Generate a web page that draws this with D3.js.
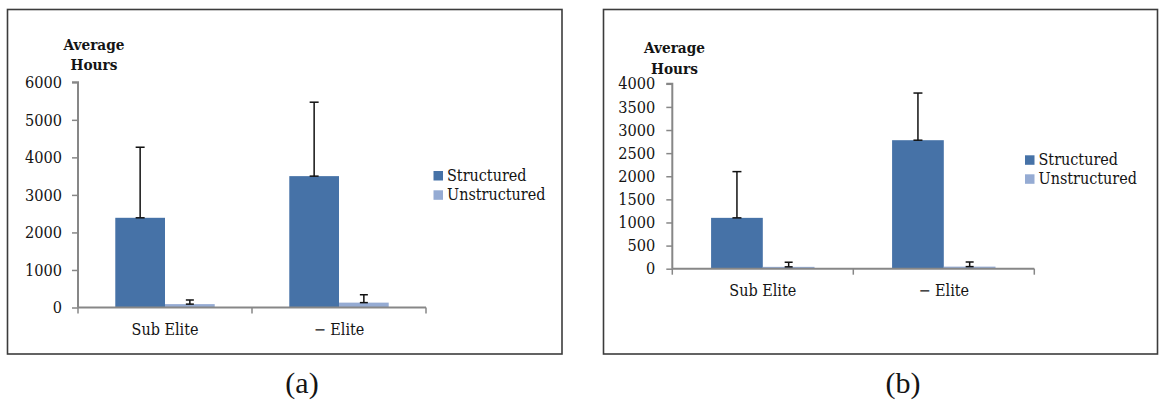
<!DOCTYPE html>
<html>
<head>
<meta charset="utf-8">
<script src="https://cdn.jsdelivr.net/npm/d3@7/dist/d3.min.js"></script>
<style>
  html, body { margin: 0; padding: 0; background: #fff; }
  svg { display: block; }
  text { fill: #141414; font-stretch: condensed; }
</style>
</head>
<body>
<svg id="chart" width="1159" height="401"></svg>
<script>
// Training hours by level: structured vs unstructured practice
const categories = ["Sub Elite", "\u2212 Elite"];
const seriesNames = ["Structured", "Unstructured"];

// Panel (a)
const structuredA = [2390, 3500];
const structuredErrA = [1880, 1970];
const unstructuredA = [90, 130];
const unstructuredErrA = [110, 210];
const yTicksA = [0, 1000, 2000, 3000, 4000, 5000, 6000];

// Panel (b)
const structuredB = [1100, 2780];
const structuredErrB = [1000, 1020];
const unstructuredB = [40, 45];
const unstructuredErrB = [100, 100];
const yTicksB = [0, 500, 1000, 1500, 2000, 2500, 3000, 3500, 4000];

const panelLabels = ["(a)", "(b)"];
const colors = ["#4672a7", "#95abd3"];

const svg = d3.select("#chart");
const FONT = "'DejaVu Serif Condensed', 'DejaVu Serif', serif";

const panels = [
  {
    label: panelLabels[0],
    values: [structuredA, unstructuredA],
    errors: [structuredErrA, unstructuredErrA],
    ticks: yTicksA,
    frame: { x0: 7.5, x1: 562, y0: 9.5, y1: 354 },
    plot: { x0: 78, x1: 426, y0: 307.5, y1: 82.3 },
    labelGap: 16,
    title: { x: 94, y1: 50, y2: 69.5 },
    xLabelY: 335,
    legend: { x: 433.5, y: 171, row: 19.3 },
    caption: { x: 302, y: 393 }
  },
  {
    label: panelLabels[1],
    values: [structuredB, unstructuredB],
    errors: [structuredErrB, unstructuredErrB],
    ticks: yTicksB,
    frame: { x0: 603.5, x1: 1157.5, y0: 9.5, y1: 354 },
    plot: { x0: 672.3, x1: 1034.3, y0: 268.7, y1: 83.8 },
    labelGap: 17,
    title: { x: 674.5, y1: 53, y2: 73.5 },
    xLabelY: 296,
    legend: { x: 1025, y: 155.3, row: 19 },
    caption: { x: 903, y: 393 }
  }
];

panels.forEach(p => {
  const g = svg.append("g");

  // frame
  g.append("rect")
    .attr("x", p.frame.x0).attr("y", p.frame.y0)
    .attr("width", p.frame.x1 - p.frame.x0)
    .attr("height", p.frame.y1 - p.frame.y0)
    .attr("fill", "none")
    .attr("stroke", "#3c3c3c")
    .attr("stroke-width", 1.6);

  const x = d3.scaleBand()
    .domain(categories)
    .range([p.plot.x0, p.plot.x1])
    .paddingInner(0).paddingOuter(0);

  // two bars per category, gap width 150%
  const barW = x.bandwidth() / 3.5;
  const xs = d3.scaleBand()
    .domain(seriesNames)
    .range([0, barW * 2]);

  const y = d3.scaleLinear()
    .domain([0, d3.max(p.ticks)])
    .range([p.plot.y0, p.plot.y1]);

  // bars
  seriesNames.forEach((s, si) => {
    g.append("g").selectAll("rect")
      .data(categories)
      .join("rect")
      .attr("x", c => x(c) + (x.bandwidth() - barW * 2) / 2 + xs(s))
      .attr("y", (c, i) => y(p.values[si][i]))
      .attr("width", xs.bandwidth())
      .attr("height", (c, i) => y(0) - y(p.values[si][i]))
      .attr("fill", colors[si]);
  });

  // y axis
  const yAxis = d3.axisLeft(y)
    .tickValues(p.ticks)
    .tickSize(6)
    .tickPadding(p.labelGap - 6)
    .tickFormat(d3.format("d"));
  const ya = g.append("g")
    .attr("transform", `translate(${p.plot.x0},0)`)
    .call(yAxis);
  ya.select(".domain").attr("stroke", "#878787").attr("stroke-width", 2)
    .attr("d", `M-6,${y.range()[1]}H0V${y.range()[0]}`);
  ya.selectAll(".tick line").attr("stroke", "#878787").attr("stroke-width", 1.5);
  ya.selectAll(".tick text")
    .attr("font-family", FONT).attr("font-size", 16.2)
    .attr("fill", "#141414");

  // x axis with tick marks on category boundaries
  const xa = g.append("g")
    .attr("transform", `translate(0,${p.plot.y0})`);
  xa.append("line")
    .attr("x1", p.plot.x0).attr("x2", p.plot.x1)
    .attr("stroke", "#878787").attr("stroke-width", 2);
  const bounds = categories.map(c => x(c)).concat([x(categories[categories.length - 1]) + x.bandwidth()]);
  xa.selectAll(".xt").data(bounds).join("line")
    .attr("class", "xt")
    .attr("x1", d => d).attr("x2", d => d)
    .attr("y1", 0).attr("y2", 6)
    .attr("stroke", "#878787").attr("stroke-width", 1.5);
  g.selectAll(".xl").data(categories).join("text")
    .attr("class", "xl")
    .attr("x", c => x(c) + x.bandwidth() / 2)
    .attr("y", p.xLabelY)
    .attr("text-anchor", "middle")
    .attr("font-family", FONT).attr("font-size", 16)
    .text(c => c);

  // error bars (plus direction, capped at both ends)
  seriesNames.forEach((s, si) => {
    categories.forEach((c, i) => {
      const cx = x(c) + (x.bandwidth() - barW * 2) / 2 + xs(s) + xs.bandwidth() / 2;
      const v = p.values[si][i];
      const e = p.errors[si][i];
      const capW = si === 0 ? 9 : 8;
      const eg = g.append("g").attr("stroke", "#111").attr("stroke-width", 1.5);
      eg.append("line").attr("x1", cx).attr("x2", cx).attr("y1", y(v)).attr("y2", y(v + e));
      eg.append("line").attr("x1", cx - capW / 2).attr("x2", cx + capW / 2).attr("y1", y(v + e)).attr("y2", y(v + e));
      eg.append("line").attr("x1", cx - capW / 2).attr("x2", cx + capW / 2).attr("y1", y(v)).attr("y2", y(v));
    });
  });

  // axis title
  const t = g.append("text")
    .attr("font-family", FONT).attr("font-size", 15.2).attr("font-weight", "bold")
    .attr("text-anchor", "middle");
  t.append("tspan").attr("x", p.title.x).attr("y", p.title.y1).text("Average");
  t.append("tspan").attr("x", p.title.x).attr("y", p.title.y2).text("Hours");

  // legend
  const lg = g.append("g").attr("transform", `translate(${p.legend.x},${p.legend.y})`);
  seriesNames.forEach((s, si) => {
    lg.append("rect")
      .attr("x", 0).attr("y", si * p.legend.row)
      .attr("width", 9.5).attr("height", 9.5)
      .attr("fill", colors[si]);
    lg.append("text")
      .attr("x", 13.5).attr("y", si * p.legend.row + 10)
      .attr("font-family", FONT).attr("font-size", 16)
      .text(s);
  });

  // panel caption
  g.append("text")
    .attr("x", p.caption.x).attr("y", p.caption.y)
    .attr("text-anchor", "middle")
    .attr("font-family", "'Liberation Serif', 'Times New Roman', serif")
    .attr("font-size", 30)
    .style("font-stretch", "normal")
    .text(p.label);
});
</script>
</body>
</html>
